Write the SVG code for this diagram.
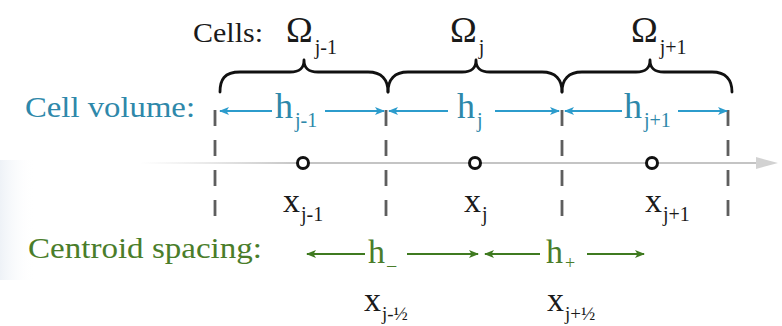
<svg xmlns="http://www.w3.org/2000/svg" width="782" height="326" viewBox="0 0 782 326">
<defs>
<style>
.t{font-family:"Liberation Serif","DejaVu Serif","Times New Roman",serif}
.blk{fill:#1a1a1a}
.teal{fill:#2e88aa}
.grn{fill:#4a7d2a}
.brace{fill:none;stroke:#111;stroke-width:2.8;stroke-linejoin:round;stroke-linecap:round}
.dash{stroke:#5e5e5e;stroke-width:2.8;stroke-dasharray:16 14}
.ta{stroke:#2c9ccc;stroke-width:2;marker-end:url(#ah-teal)}
.ga{stroke:#3f7a20;stroke-width:2;marker-end:url(#ah-green)}
.dot{fill:#fff;stroke:#111;stroke-width:3}
</style>
<marker id="ah-teal" markerUnits="userSpaceOnUse" markerWidth="10" markerHeight="8" refX="9" refY="4" orient="auto">
<path d="M0,0 L10,4 L0,8 L2.5,4 Z" fill="#2c9ccc"/>
</marker>
<marker id="ah-green" markerUnits="userSpaceOnUse" markerWidth="10" markerHeight="8" refX="9" refY="4" orient="auto">
<path d="M0,0 L10,4 L0,8 L2.5,4 Z" fill="#3f7a20"/>
</marker>
<linearGradient id="axisfade" x1="140" y1="0" x2="300" y2="0" gradientUnits="userSpaceOnUse">
<stop offset="0" stop-color="#cfcfcf" stop-opacity="0"/>
<stop offset="1" stop-color="#c4c4c4" stop-opacity="1"/>
</linearGradient>
<linearGradient id="bgleft" x1="0" y1="0" x2="1" y2="0">
<stop offset="0" stop-color="#eef2f7"/>
<stop offset="1" stop-color="#ffffff" stop-opacity="0"/>
</linearGradient>
</defs>
<rect width="782" height="326" fill="#ffffff"/>
<rect x="0" y="160" width="35" height="120" fill="url(#bgleft)"/>

<g id="axis">
<line x1="140" y1="163" x2="762" y2="163" stroke="url(#axisfade)" stroke-width="2"/>
<polygon points="756,157 778,163 756,169" fill="#d2d2d2"/>
</g>

<g id="cell-boundaries">
<line class="dash" x1="215" y1="110" x2="215" y2="218"/>
<line class="dash" x1="386" y1="110" x2="386" y2="218"/>
<line class="dash" x1="562" y1="110" x2="562" y2="218"/>
<line class="dash" x1="728" y1="110" x2="728" y2="218"/>
</g>

<g id="braces">
<path class="brace" d="M220,92 C220,80 224,72 240,72 L290,72 C300,72 304,68 304,60 C304,68 308,72 318,72 L368,72 C382,72 388,80 388,92"/>
<path class="brace" d="M388,92 C388,80 394,72 408,72 L462,72 C472,72 476,68 476,60 C476,68 480,72 490,72 L542,72 C556,72 562,80 562,92"/>
<path class="brace" d="M562,92 C562,80 568,72 582,72 L636,72 C646,72 650,68 650,60 C650,68 654,72 664,72 L712,72 C726,72 732,80 732,92"/>
</g>

<g id="labels">
<text class="t blk" x="193" y="42" font-size="28" textLength="70" lengthAdjust="spacingAndGlyphs">Cells:</text>
<text class="t teal" x="25" y="117" font-size="30" textLength="170" lengthAdjust="spacingAndGlyphs">Cell volume:</text>
<text class="t grn" x="28" y="258" font-size="30" textLength="234" lengthAdjust="spacingAndGlyphs">Centroid spacing:</text>
</g>

<g id="cell-jm1">
<text class="t blk" x="286" y="42" font-size="36">Ω<tspan dx="2" dy="12" font-size="20">j-1</tspan></text>
</g>
<g id="cell-j">
<text class="t blk" x="450" y="42" font-size="36">Ω<tspan dx="2" dy="12" font-size="20">j</tspan></text>
</g>
<g id="cell-jp1">
<text class="t blk" x="631" y="42" font-size="36">Ω<tspan dx="2" dy="12" font-size="20">j+1</tspan></text>
</g>

<g id="h-jm1">
<text class="t teal" x="275" y="118" font-size="36">h<tspan dx="2" dy="9" font-size="20">j-1</tspan></text>
</g>
<g id="h-j">
<text class="t teal" x="457" y="118" font-size="36">h<tspan dx="2" dy="9" font-size="20">j</tspan></text>
</g>
<g id="h-jp1">
<text class="t teal" x="624" y="118" font-size="36">h<tspan dx="2" dy="9" font-size="20">j+1</tspan></text>
</g>

<g id="centroid-jm1">
<circle class="dot" cx="303" cy="163" r="5.5"/>
<text class="t blk" x="283" y="212" font-size="34">x<tspan dx="1" dy="9" font-size="20">j-1</tspan></text>
</g>
<g id="centroid-j">
<circle class="dot" cx="475" cy="163" r="5.5"/>
<text class="t blk" x="464" y="212" font-size="34">x<tspan dx="1" dy="9" font-size="20">j</tspan></text>
</g>
<g id="centroid-jp1">
<circle class="dot" cx="652" cy="163" r="5.5"/>
<text class="t blk" x="645" y="212" font-size="34">x<tspan dx="1" dy="9" font-size="20">j+1</tspan></text>
</g>

<g id="h-minus">
<text class="t grn" x="368" y="263" font-size="34">h<tspan dx="1" dy="10" font-size="20">−</tspan></text>
</g>
<g id="h-plus">
<text class="t grn" x="546" y="263" font-size="34">h<tspan dx="2" dy="6" font-size="18">+</tspan></text>
</g>

<g id="face-jmhalf">
<text class="t blk" x="364" y="311" font-size="34">x<tspan dx="1" dy="9" font-size="19">j-½</tspan></text>
</g>
<g id="face-jphalf">
<text class="t blk" x="547" y="311" font-size="34">x<tspan dx="1" dy="9" font-size="19">j+½</tspan></text>
</g>

<g id="connectors">
<line class="ta" x1="272" y1="111" x2="220" y2="111"/>
<line class="ta" x1="325" y1="111" x2="384" y2="111"/>
<line class="ta" x1="448" y1="111" x2="389" y2="111"/>
<line class="ta" x1="495" y1="111" x2="559" y2="111"/>
<line class="ta" x1="622" y1="111" x2="565" y2="111"/>
<line class="ta" x1="678" y1="111" x2="727" y2="111"/>
<line class="ga" x1="365" y1="254" x2="307" y2="254"/>
<line class="ga" x1="407" y1="254" x2="478" y2="254"/>
<line class="ga" x1="540" y1="254" x2="485" y2="254"/>
<line class="ga" x1="587" y1="254" x2="644" y2="254"/>
</g>
</svg>
